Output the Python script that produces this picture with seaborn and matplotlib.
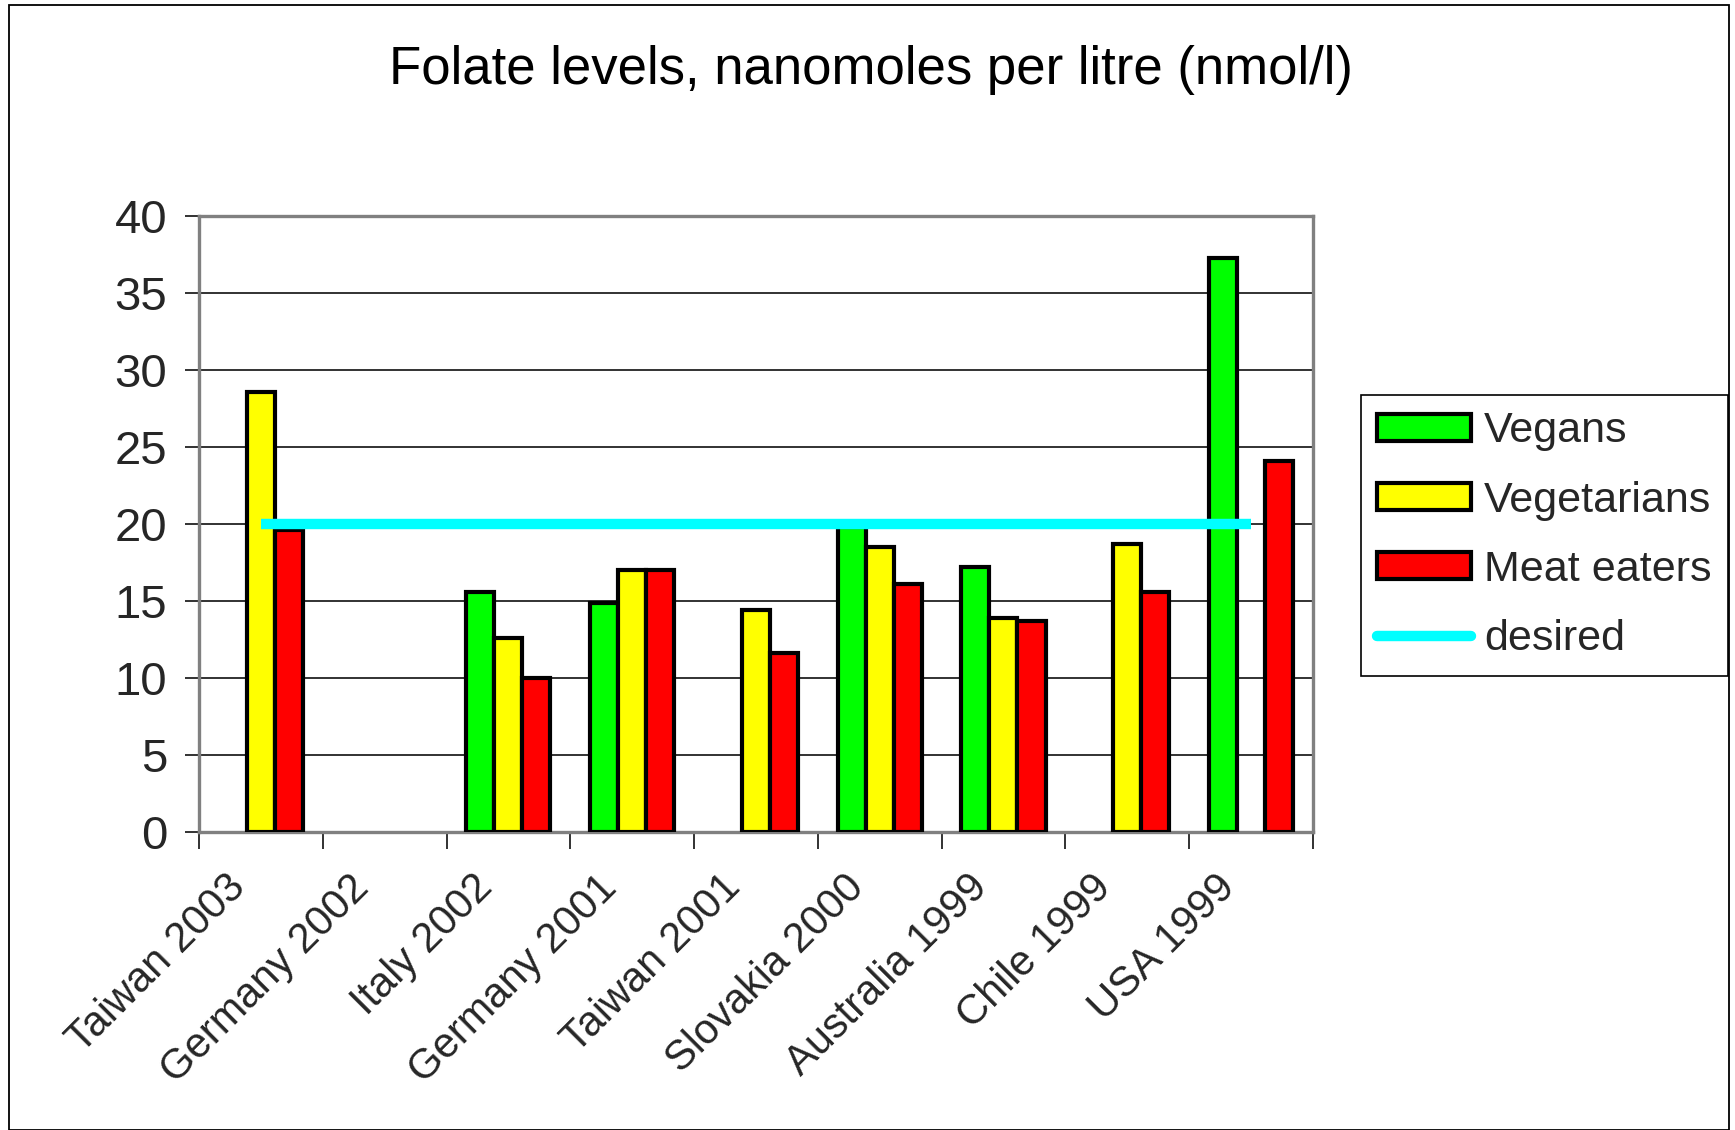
import numpy as np
import pandas as pd
import matplotlib
matplotlib.use("Agg")
import matplotlib.pyplot as plt
import seaborn as sns
from matplotlib.patches import Patch, Rectangle
from matplotlib.lines import Line2D
from matplotlib.transforms import ScaledTranslation

categories = ["Taiwan 2003", "Germany 2002", "Italy 2002", "Germany 2001", "Taiwan 2001",
              "Slovakia 2000", "Australia 1999", "Chile 1999", "USA 1999"]
vegans = [np.nan, np.nan, 15.6, 14.9, np.nan, 19.8, 17.2, np.nan, 37.3]
vegetarians = [28.6, np.nan, 12.6, 17.0, 14.4, 18.5, 13.9, 18.7, np.nan]
meat_eaters = [19.6, np.nan, 10.0, 17.0, 11.6, 16.1, 13.7, 15.6, 24.1]
desired = [20, 20, 20, 20, 20, 20, 20, 20, 20]
groups = ["Vegans", "Vegetarians", "Meat eaters"]
colors = ["#00FF00", "#FFFF00", "#FF0000"]

df = pd.DataFrame({
    "category": categories * 3,
    "group": [g for g in groups for _ in categories],
    "value": vegans + vegetarians + meat_eaters,
})

sns.set_theme(style="white")
plt.rcParams["font.family"] = ["Liberation Sans", "DejaVu Sans"]

fig = plt.figure(figsize=(17.35, 11.3), dpi=100)
ax = fig.add_axes([0.1147, 0.2637, 0.642, 0.545])

sns.barplot(data=df, x="category", y="value", hue="group", order=categories,
            hue_order=groups, palette=colors, saturation=1, width=0.68, gap=0,
            edgecolor="black", linewidth=3.0, errorbar=None, legend=False, ax=ax, zorder=3)

ax.plot(np.arange(len(categories)), desired, color="#00FFFF", lw=7.5, zorder=4,
        solid_capstyle="butt")

ax.set_ylim(0, 40)
ax.set_xlim(-0.5, len(categories) - 0.5)
ax.set_yticks(range(0, 41, 5))
ax.yaxis.grid(True, color="#222222", lw=1.3, zorder=0)
ax.set_axisbelow(True)
ax.set_xlabel("")
ax.set_ylabel("")
for s in ax.spines.values():
    s.set_visible(True)
    s.set_color("#808080")
    s.set_linewidth(2.4)

ax.tick_params(axis="y", which="major", length=10, width=1.3, color="#222222",
               labelsize=34, pad=13, left=True)
ax.set_xticks(range(len(categories)))
ax.set_xticklabels(categories, rotation=45, ha="right", rotation_mode="anchor", fontsize=30)
ax.tick_params(axis="x", which="major", length=0, pad=24)
ax.set_xticks(np.arange(-0.5, len(categories), 1.0), minor=True)
ax.tick_params(axis="x", which="minor", length=12, width=1.3, color="#222222", bottom=True)
shift = ScaledTranslation(-0.36, -0.02, fig.dpi_scale_trans)
for lab in ax.get_xticklabels():
    lab.set_transform(lab.get_transform() + shift)

fig.text(0.502, 0.938, "Folate levels, nanomoles per litre (nmol/l)", ha="center",
         va="center", fontsize=38, color="black")

handles = [Patch(facecolor=c, edgecolor="black", linewidth=3.0) for c in colors]
handles.append(Line2D([0], [0], color="#00FFFF", lw=7.5))
leg = fig.legend(handles, groups + ["desired"], loc="upper left",
                 bbox_to_anchor=(0.7845, 0.6504), fontsize=31, frameon=True,
                 fancybox=False, edgecolor="black", framealpha=1,
                 handlelength=2.18, handleheight=0.59, labelspacing=0.68,
                 handletextpad=0.3, borderpad=0.38, borderaxespad=0)
leg.get_frame().set_linewidth(1.2)

fig.patches.append(Rectangle((0.005, 0.0), 0.9915, 0.996, transform=fig.transFigure,
                             fill=False, edgecolor="black", lw=1.3))

fig.savefig("out.png", dpi=100, facecolor="white")
